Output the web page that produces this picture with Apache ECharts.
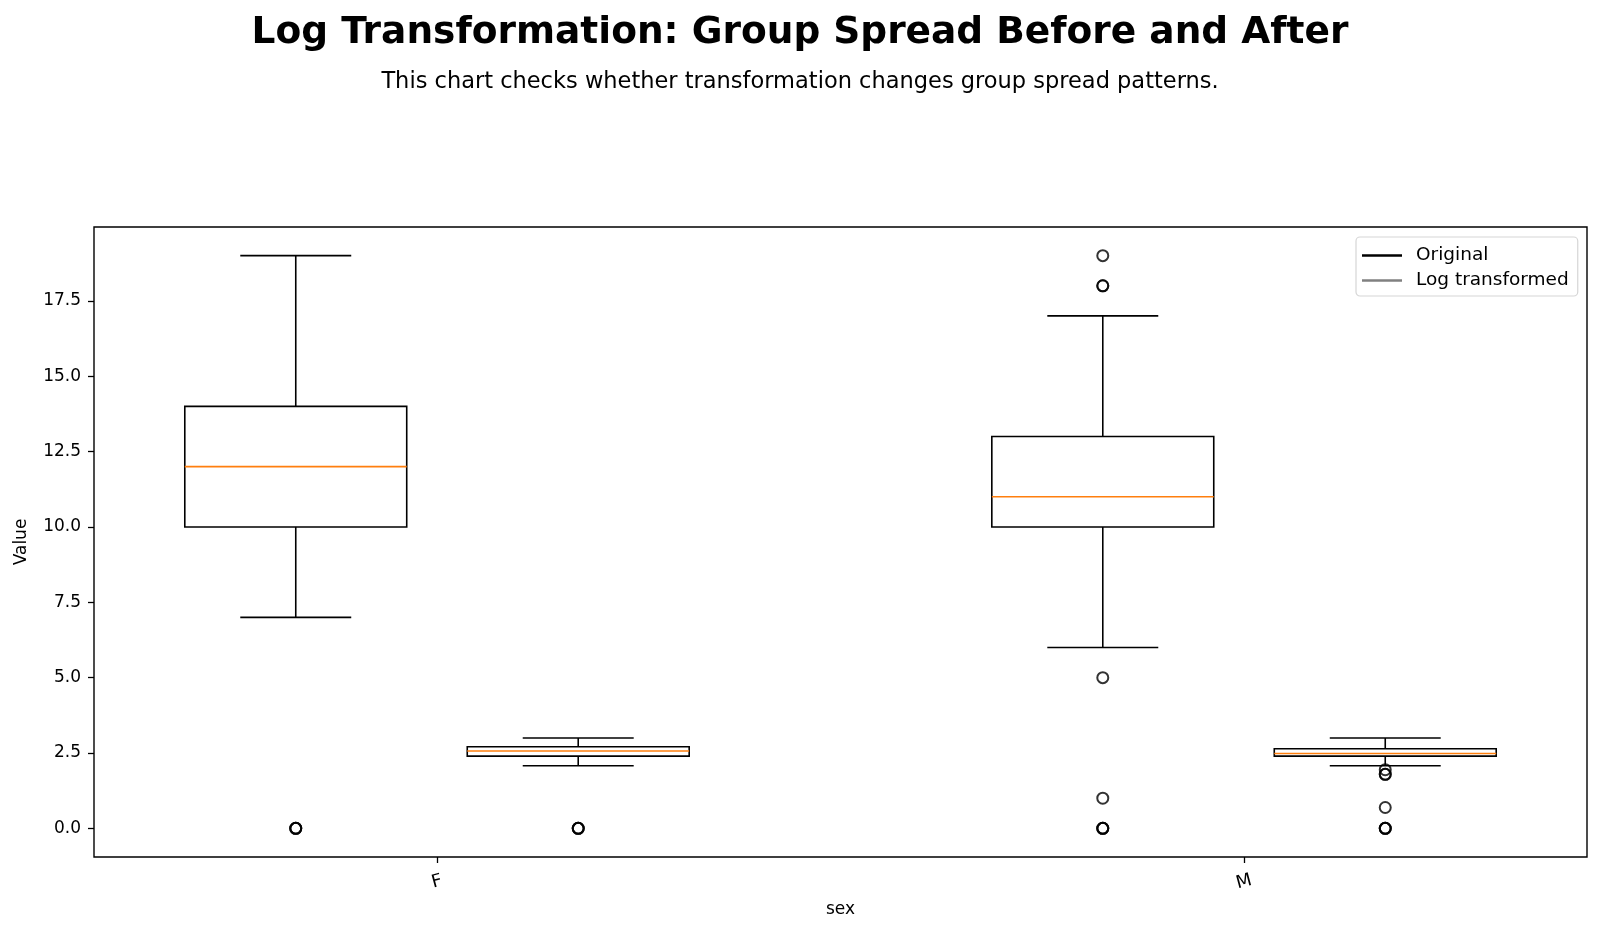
<!DOCTYPE html>
<html>
<head>
<meta charset="utf-8">
<script src="https://cdn.jsdelivr.net/npm/echarts@6/dist/echarts.min.js"></script>
<style>
html, body { margin: 0; padding: 0; background: #fff; }
#main { width: 1600px; height: 932px; }
</style>
</head>
<body>
<div id="main"></div>
<script>
// groups and box positions (matplotlib-like positions around tick 1 and 2)
var groups = ['F', 'M'];
var groupTicks = [1, 2];
var origPos = [0.825, 1.825];
var logPos = [1.175, 2.175];

// [whisker low, q1, median, q3, whisker high]
var origF = [7, 10, 12, 14, 19];
var origM = [6, 10, 11, 13, 17];
var logF = [2.079, 2.398, 2.565, 2.708, 2.996];
var logM = [2.079, 2.398, 2.485, 2.639, 2.996];

// outliers (repeated values drawn on top of each other)
var origOutF = [0, 0, 0];
var origOutM = [19, 18, 18, 5, 1, 0, 0, 0];
var logOutF = [0, 0, 0];
var logOutM = [1.946, 1.792, 1.792, 0.693, 0, 0, 0];

var yTicks = [0, 2.5, 5, 7.5, 10, 12.5, 15, 17.5];

var boxWidth = 0.275;
var font = 'DejaVu Sans';

function boxRows(pos, boxes) {
    var rows = [];
    for (var i = 0; i < pos.length; i++) {
        rows.push([pos[i]].concat(boxes[i]));
    }
    return rows;
}

function outRows(pos, outs) {
    var rows = [];
    for (var i = 0; i < pos.length; i++) {
        for (var j = 0; j < outs[i].length; j++) {
            rows.push([pos[i], outs[i][j]]);
        }
    }
    return rows;
}

function renderBox(params, api) {
    var x = api.value(0);
    var pLo = api.coord([x, api.value(1)]);
    var pQ1 = api.coord([x, api.value(2)]);
    var pMed = api.coord([x, api.value(3)]);
    var pQ3 = api.coord([x, api.value(4)]);
    var pHi = api.coord([x, api.value(5)]);
    var half = api.size([boxWidth, 0])[0] / 2;
    var cap = half / 2;
    var cx = pMed[0];
    var line = { stroke: '#000', lineWidth: 1.6 };
    return {
        type: 'group',
        children: [
            { type: 'line', shape: { x1: cx, y1: pQ3[1], x2: cx, y2: pHi[1] }, style: line },
            { type: 'line', shape: { x1: cx, y1: pQ1[1], x2: cx, y2: pLo[1] }, style: line },
            { type: 'line', shape: { x1: cx - cap, y1: pHi[1], x2: cx + cap, y2: pHi[1] }, style: line },
            { type: 'line', shape: { x1: cx - cap, y1: pLo[1], x2: cx + cap, y2: pLo[1] }, style: line },
            { type: 'rect', shape: { x: cx - half, y: pQ3[1], width: half * 2, height: pQ1[1] - pQ3[1] },
              style: { fill: 'none', stroke: '#000', lineWidth: 1.6 } },
            { type: 'line', shape: { x1: cx - half, y1: pMed[1], x2: cx + half, y2: pMed[1] },
              style: { stroke: '#ff7f0e', lineWidth: 1.6 } }
        ]
    };
}

var myChart = echarts.init(document.getElementById('main'));

var outlierStyle = { color: 'rgba(0,0,0,0)', borderColor: '#000', borderWidth: 2 };

var option = {
    animation: false,
    backgroundColor: '#fff',
    textStyle: { fontFamily: font },
    title: [
        {
            text: 'Log Transformation: Group Spread Before and After',
            left: 'center',
            top: 9,
            textStyle: { fontFamily: font, fontSize: 37.5, fontWeight: 'bold', color: '#000' }
        },
        {
            text: 'This chart checks whether transformation changes group spread patterns.',
            left: 'center',
            top: 66,
            textStyle: { fontFamily: font, fontSize: 22.5, fontWeight: 'normal', color: '#000' }
        }
    ],
    legend: {
        data: [
            { name: 'Original', itemStyle: { color: '#000' } },
            { name: 'Log transformed', itemStyle: { color: '#808080' } }
        ],
        orient: 'vertical',
        left: 1356,
        top: 237,
        icon: 'path://M0,0H40V2.4H0Z',
        itemWidth: 40,
        itemHeight: 20,
        itemGap: 6,
        padding: [9, 9, 6, 6],
        borderColor: '#d6d6d6',
        borderWidth: 1.2,
        borderRadius: 4,
        backgroundColor: 'rgba(255,255,255,0.8)',
        selectedMode: false,
        textStyle: { fontFamily: font, fontSize: 18.5, color: '#000', padding: [0, 0, 0, 9] }
    },
    grid: {
        left: 94,
        right: 13,
        top: 227,
        bottom: 75,
        show: true,
        borderColor: '#000',
        borderWidth: 1.4,
        backgroundColor: 'rgba(0,0,0,0)'
    },
    xAxis: {
        type: 'value',
        min: 0.575,
        max: 2.425,
        name: 'sex',
        nameLocation: 'middle',
        nameGap: 44,
        nameTextStyle: { fontFamily: font, fontSize: 17, color: '#000' },
        axisLine: { show: false, onZero: false },
        splitLine: { show: false },
        axisTick: { show: true, length: 6, lineStyle: { color: '#000', width: 1.3 }, customValues: groupTicks },
        axisLabel: {
            customValues: groupTicks,
            rotate: 15,
            align: 'center',
            verticalAlign: 'middle',
            margin: 25,
            fontFamily: font,
            fontSize: 18,
            color: '#000',
            formatter: function (v) {
                var i = groupTicks.indexOf(v);
                return i >= 0 ? groups[i] : '';
            }
        }
    },
    yAxis: {
        type: 'value',
        min: -0.95,
        max: 19.95,
        name: 'Value',
        nameLocation: 'middle',
        nameGap: 64,
        nameTextStyle: { fontFamily: font, fontSize: 17, color: '#000' },
        axisLine: { show: false, onZero: false },
        splitLine: { show: false },
        axisTick: { show: true, length: 6, lineStyle: { color: '#000', width: 1.3 }, customValues: yTicks },
        axisLabel: {
            customValues: yTicks,
            margin: 13,
            fontFamily: font,
            fontSize: 17,
            color: '#000',
            formatter: function (v) { return v.toFixed(1); }
        }
    },
    series: [
        {
            name: 'Original',
            type: 'custom',
            itemStyle: { color: '#000' },
            renderItem: renderBox,
            encode: { x: 0, y: [1, 2, 3, 4, 5] },
            data: boxRows(origPos, [origF, origM]),
            z: 3
        },
        {
            name: 'Log transformed',
            type: 'custom',
            itemStyle: { color: '#808080' },
            renderItem: renderBox,
            encode: { x: 0, y: [1, 2, 3, 4, 5] },
            data: boxRows(logPos, [logF, logM]),
            z: 3
        },
        {
            name: 'Original outliers',
            type: 'scatter',
            symbol: 'circle',
            symbolSize: 11,
            itemStyle: outlierStyle,
            data: outRows(origPos, [origOutF, origOutM]),
            z: 4
        },
        {
            name: 'Log outliers',
            type: 'scatter',
            symbol: 'circle',
            symbolSize: 11,
            itemStyle: outlierStyle,
            data: outRows(logPos, [logOutF, logOutM]),
            z: 4
        }
    ]
};

myChart.setOption(option);
</script>
</body>
</html>
